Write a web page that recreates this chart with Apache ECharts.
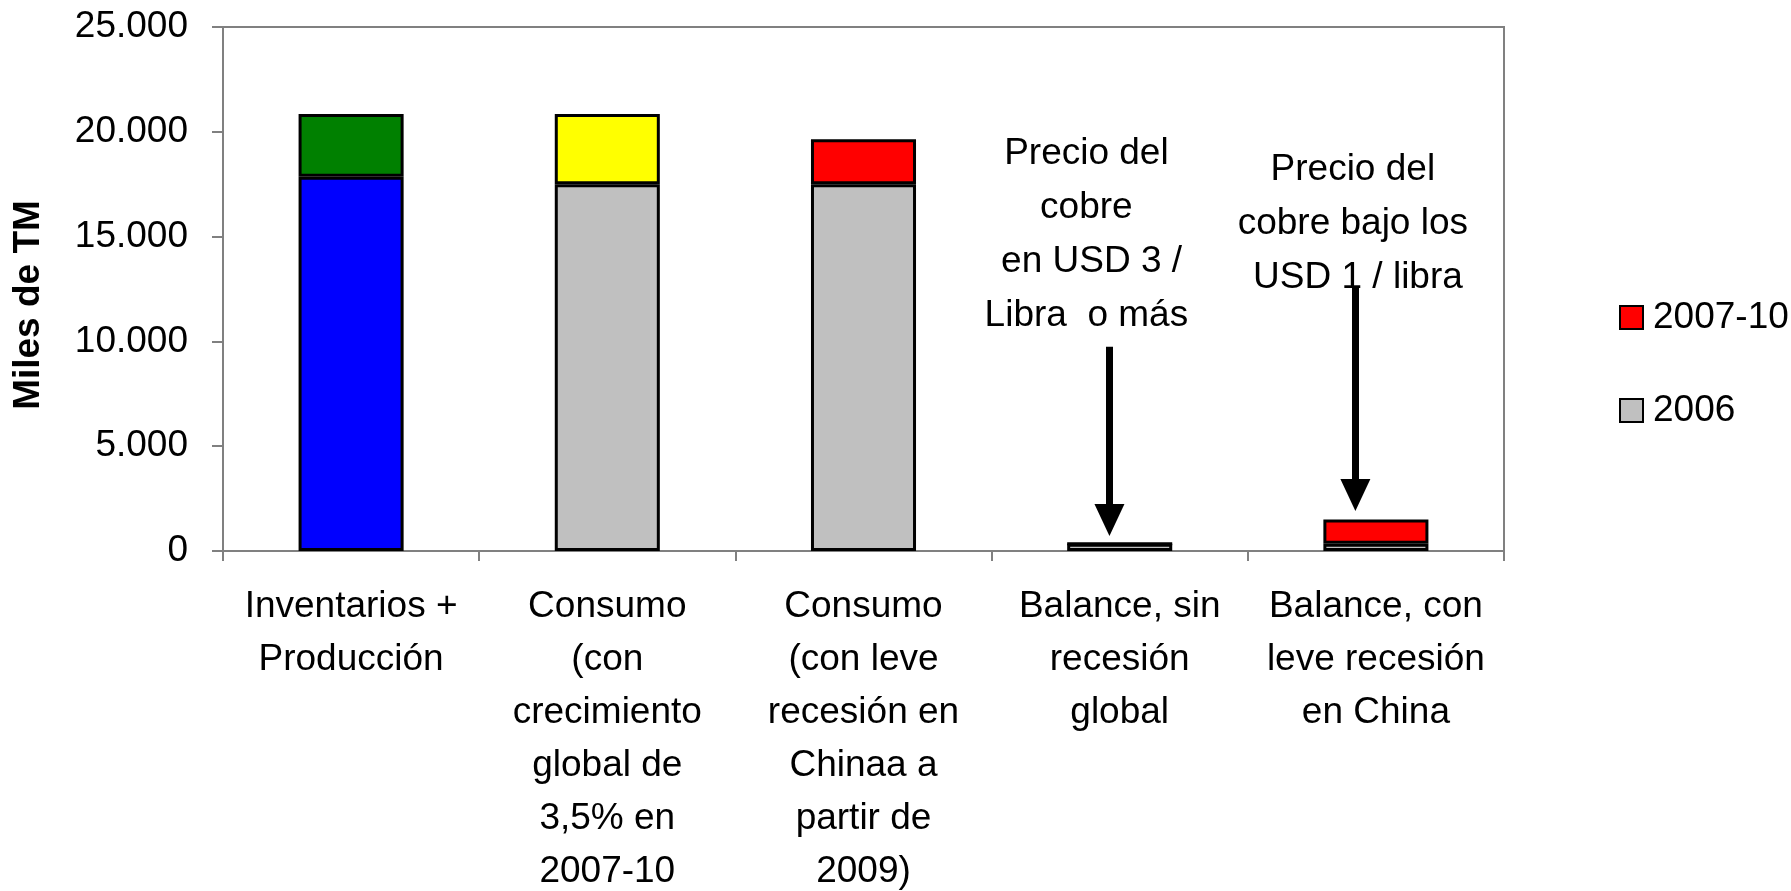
<!DOCTYPE html>
<html>
<head>
<meta charset="utf-8">
<script src="https://cdn.jsdelivr.net/npm/echarts@6/dist/echarts.min.js"></script>
<style>
  html, body { margin: 0; padding: 0; background: #fff; }
  #chart { width: 1791px; height: 891px; }
</style>
</head>
<body>
<div id="chart"></div>
<script>
// categorías del eje X
const categories = [
  'Inventarios +\nProducción',
  'Consumo\n(con\ncrecimiento\nglobal de\n3,5% en\n2007-10',
  'Consumo\n(con leve\nrecesión en\nChinaa a\npartir de\n2009)',
  'Balance, sin\nrecesión\nglobal',
  'Balance, con\nleve recesión\nen China'
]

// miles de TM
const values2006 = [17850, 17500, 17500, 350, 350]
const values2007_10 = [3000, 3350, 2150, 0, 1150]

// colores por barra (el primer grupo no usa los colores de la leyenda)
const colors2006 = ['#0000ff', '#c0c0c0', '#c0c0c0', '#c0c0c0', '#c0c0c0']
const colors2007_10 = ['#008000', '#ffff00', '#ff0000', '#ff0000', '#ff0000']

const yTicks = [0, 5000, 10000, 15000, 20000, 25000]

// flechas y notas (x en unidades de categoría 0..5, y en miles de TM)
const arrowX = [3.46, 4.42]
const arrowFrom = [9740, 12600]
const arrowTo = [1480, 2670]
const noteX = [3.37, 4.41]
const noteY = [15100, 15620]
const noteText = [
  'Precio del\ncobre\n en USD 3 /\nLibra  o más',
  'Precio del\ncobre bajo los\n USD 1 / libra'
]

const FONT = '"Liberation Sans", Arial, sans-serif'

const chart = echarts.init(document.getElementById('chart'))

const fmt = v => (v === 0 ? '0' : (v / 1000) + '.000')

const option = {
  animation: false,
  textStyle: { fontFamily: FONT },
  grid: {
    left: 223,
    top: 27,
    right: 287,
    bottom: 340,
    show: true,
    borderColor: '#808080',
    borderWidth: 2,
    containLabel: false,
    outerBoundsMode: 'none'
  },
  legend: {
    data: ['2007-10', '2006'],
    orient: 'vertical',
    left: 1614,
    top: 294,
    itemWidth: 23,
    itemHeight: 23,
    itemGap: 56,
    icon: 'rect',
    textStyle: { fontSize: 37, color: '#000', fontFamily: FONT, padding: [0, 0, 0, 5] }
  },
  xAxis: [
    {
      type: 'category',
      data: categories,
      axisLine: { lineStyle: { color: '#808080', width: 2 } },
      axisTick: { show: true, length: 10, lineStyle: { color: '#808080', width: 2 } },
      axisLabel: {
        interval: 0,
        margin: 29,
        fontSize: 37,
        lineHeight: 53,
        color: '#000',
        align: 'center'
      }
    },
    {
      type: 'value',
      min: 0,
      max: 5,
      show: false
    }
  ],
  yAxis: {
    type: 'value',
    min: yTicks[0],
    max: yTicks[yTicks.length - 1],
    interval: 5000,
    name: 'Miles de TM',
    nameLocation: 'middle',
    nameGap: 176,
    nameTextStyle: { fontSize: 37, fontWeight: 'bold', color: '#000', padding: [0, 32, 0, 0] },
    axisLine: { show: true, lineStyle: { color: '#808080', width: 2 } },
    axisTick: { show: true, length: 11, lineStyle: { color: '#808080', width: 2 } },
    splitLine: { show: false },
    axisLabel: { fontSize: 37, color: '#000', margin: 35, formatter: fmt }
  },
  series: [
    {
      name: '2006',
      type: 'bar',
      stack: 'total',
      barWidth: '41%',
      itemStyle: { color: '#c0c0c0', borderColor: '#000', borderWidth: 3 },
      data: values2006.map((v, i) => ({ value: v, itemStyle: { color: colors2006[i] } }))
    },
    {
      name: '2007-10',
      type: 'bar',
      stack: 'total',
      barWidth: '41%',
      itemStyle: { color: '#ff0000', borderColor: '#000', borderWidth: 3 },
      data: values2007_10.map((v, i) => ({ value: v, itemStyle: { color: colors2007_10[i] } }))
    },
    {
      name: 'notas',
      type: 'scatter',
      xAxisIndex: 1,
      data: [],
      silent: true,
      markLine: {
        silent: true,
        symbol: ['none', 'triangle'],
        symbolSize: [30, 32],
        label: { show: false },
        lineStyle: { color: '#000', width: 7, type: 'solid' },
        data: arrowX.map((x, i) => [
          { coord: [x, arrowFrom[i]] },
          { coord: [x, arrowTo[i]] }
        ])
      },
      markPoint: {
        silent: true,
        symbol: 'rect',
        symbolSize: 1,
        itemStyle: { color: 'rgba(0,0,0,0)' },
        label: {
          show: true,
          position: 'inside',
          fontSize: 37,
          lineHeight: 54,
          color: '#000',
          align: 'center',
          verticalAlign: 'middle',
          fontFamily: FONT
        },
        data: noteX.map((x, i) => ({
          coord: [x, noteY[i]],
          label: { formatter: noteText[i] }
        }))
      }
    }
  ]
}

chart.setOption(option)
</script>
</body>
</html>
